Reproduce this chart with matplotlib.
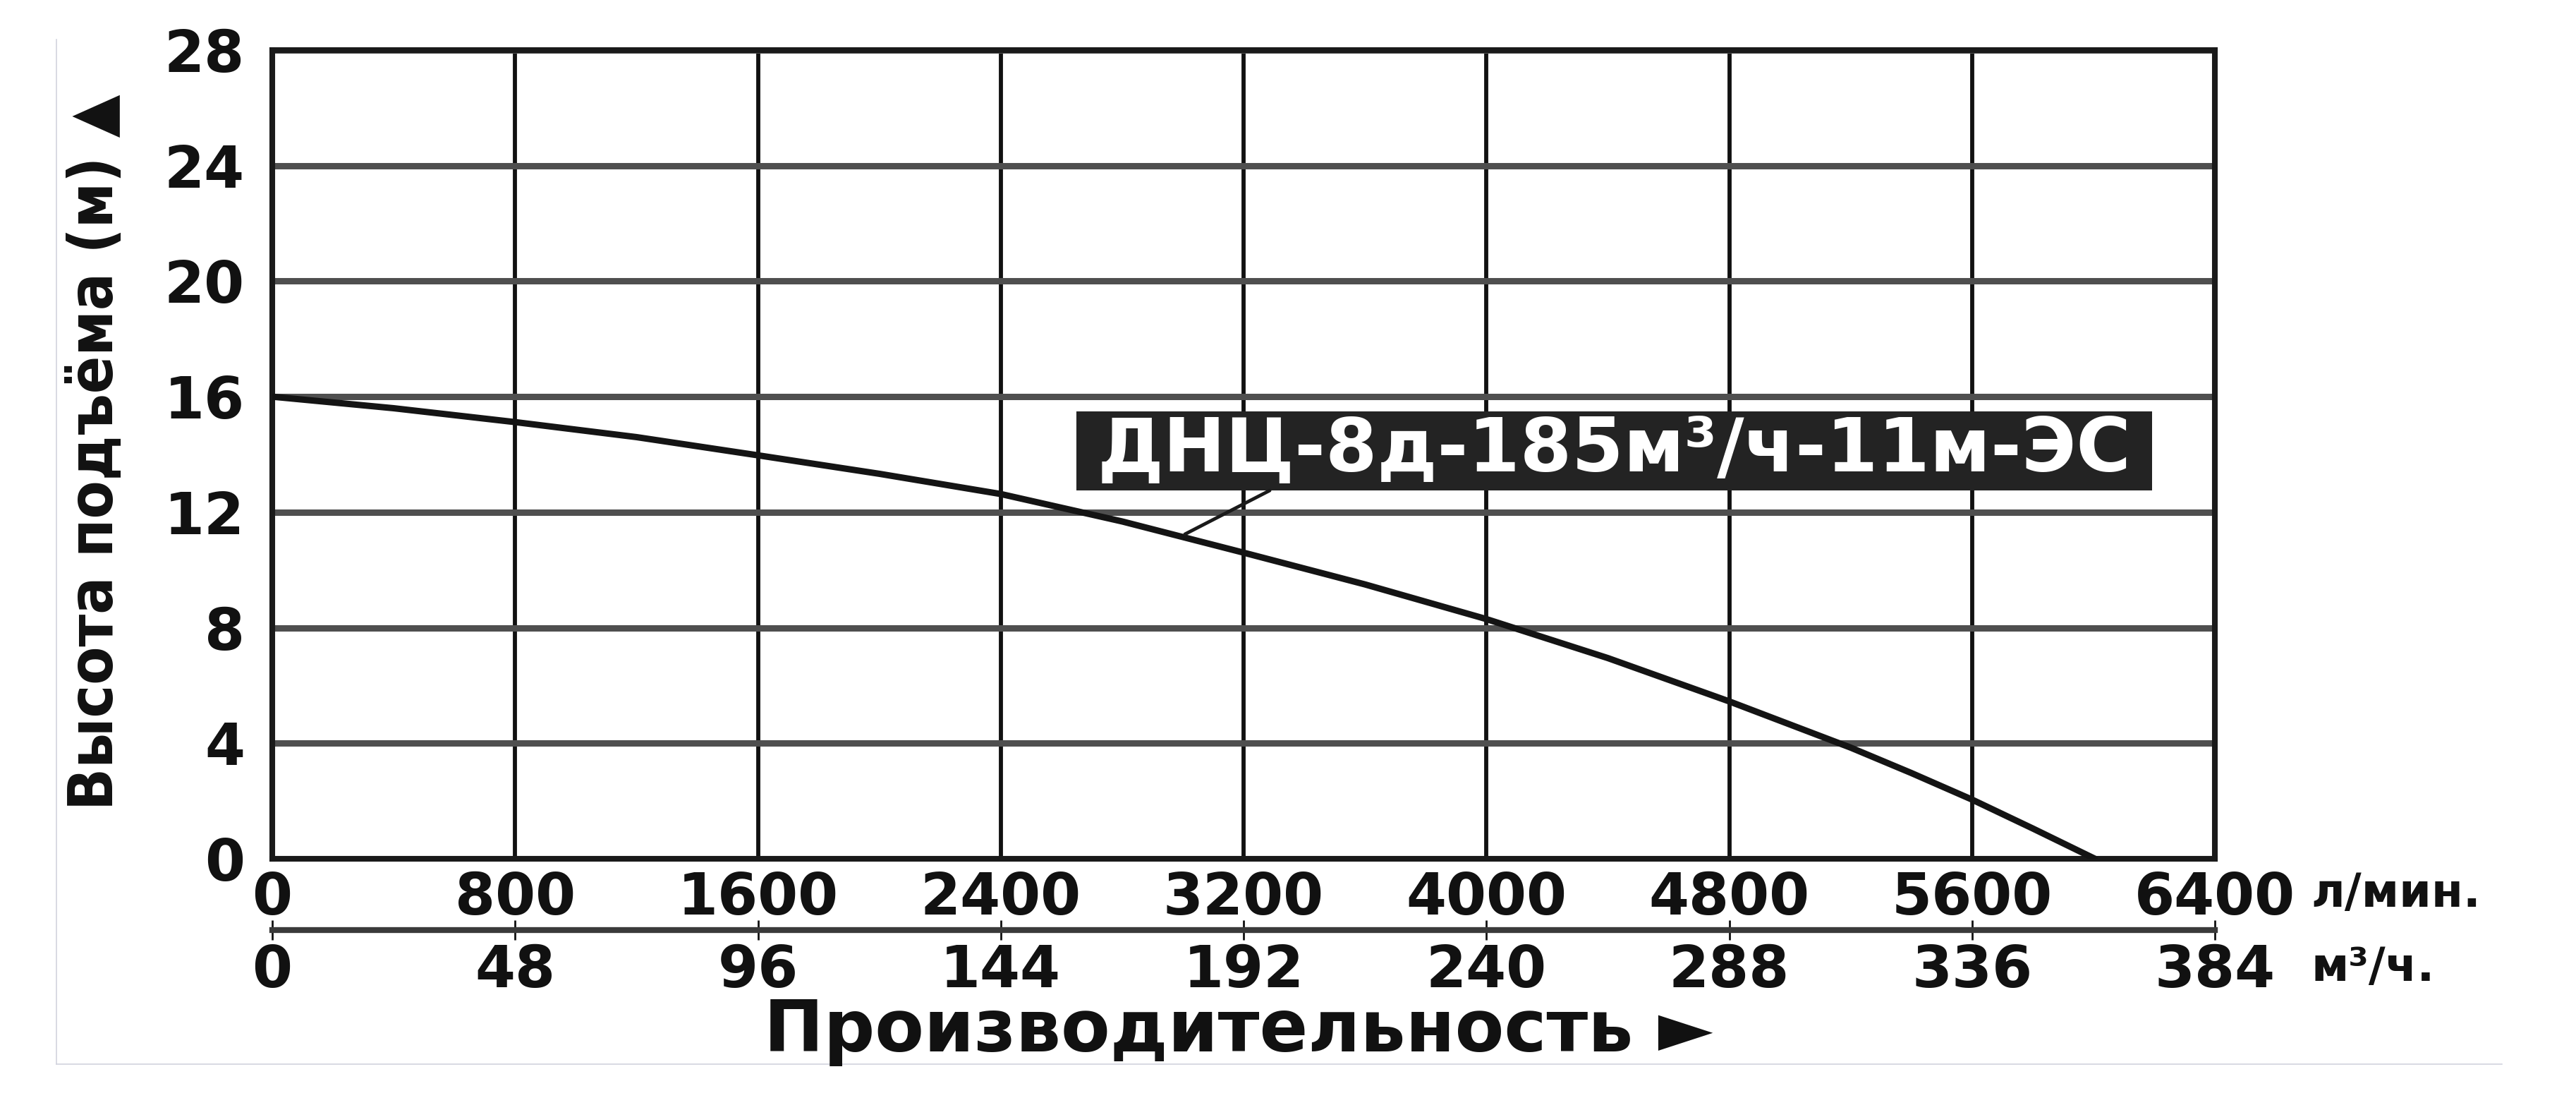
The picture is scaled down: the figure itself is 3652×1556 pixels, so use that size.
import matplotlib
matplotlib.use('Agg')
import matplotlib.pyplot as plt
from matplotlib import font_manager
from matplotlib.lines import Line2D
from matplotlib.patches import Rectangle

# кривая насоса: расход (л/мин) -> напор (м)
flow_lpm = [0, 400, 800, 1200, 1600, 2000, 2400, 2800, 3200, 3600,
            4000, 4400, 4800, 5000, 5200, 5400, 5600, 5800, 6005]
head_m = [16.0, 15.6, 15.12, 14.6, 13.97, 13.33, 12.63, 11.68, 10.6, 9.5,
          8.3, 6.95, 5.45, 4.65, 3.85, 2.97, 2.05, 1.05, 0.0]

x_ticks_lpm = [0, 800, 1600, 2400, 3200, 4000, 4800, 5600, 6400]
x_ticks_m3h = [0, 48, 96, 144, 192, 240, 288, 336, 384]
y_ticks_m = [0, 4, 8, 12, 16, 20, 24, 28]
LPM_TO_M3H = 0.06

model_name = 'ДНЦ-8д-185м³/ч-11м-ЭС'
box_x = (2649, 6193)
box_y = (12.75, 15.49)
leader_start = (3286, 12.75)
leader_end = (3007, 11.24)

plt.rcParams['font.family'] = ['DejaVu Sans']
plt.rcParams['font.weight'] = 'bold'

# узкий шрифт для подписи оси Y, если есть
names = {f.name for f in font_manager.fontManager.ttflist}
narrow_family = ['DejaVu Sans']
narrow_stretch = 'normal'
if 'Liberation Sans Narrow' in names:
    narrow_family = ['Liberation Sans Narrow', 'DejaVu Sans']
elif any(f.name == 'DejaVu Sans' and 'condensed' in str(f.stretch)
         for f in font_manager.fontManager.ttflist):
    narrow_stretch = 'condensed'

W, H = 3652, 1556
fig = plt.figure(figsize=(W / 100, H / 100), dpi=100)
ax = fig.add_axes([386 / W, 1 - 1217 / H, 2754 / W, 1146 / H])

ax.plot(flow_lpm, head_m, color='#141414', lw=6.5, solid_capstyle='round',
        solid_joinstyle='round', zorder=4)

ax.set_xlim(0, 6400)
ax.set_ylim(0, 28)
ax.set_xticks(x_ticks_lpm)
ax.set_yticks(y_ticks_m)
ax.set_xticklabels([str(v) for v in x_ticks_lpm])
ax.set_yticklabels([str(v) for v in y_ticks_m])
ax.xaxis.grid(True, color='#111111', lw=4.2, zorder=1)
ax.yaxis.grid(True, color='#4f4f4f', lw=6.5, zorder=1)
ax.set_axisbelow(True)
ax.tick_params(axis='x', length=0, labelsize=59, pad=12, colors='#111111')
ax.tick_params(axis='y', length=0, labelsize=59, pad=28, colors='#111111')
for s in ax.spines.values():
    s.set_linewidth(5.8)
    s.set_color('#1a1a1a')

# вторая шкала в м³/ч
sec = ax.secondary_xaxis(-0.0881, functions=(lambda x: x * LPM_TO_M3H,
                                             lambda x: x / LPM_TO_M3H))
sec.set_xticks(x_ticks_m3h)
sec.set_xticklabels([str(v) for v in x_ticks_m3h])
sec.spines['bottom'].set_linewidth(6)
sec.spines['bottom'].set_color('#3a3a3a')
sec.tick_params(direction='inout', length=20, width=2, color='#111111',
                labelsize=59, pad=4, labelcolor='#111111')

# подпись модели
ax.add_patch(Rectangle((box_x[0], box_y[0]), box_x[1] - box_x[0], box_y[1] - box_y[0],
                       facecolor='#232323', edgecolor='none', zorder=5))
ax.text(sum(box_x) / 2, sum(box_y) / 2, model_name, color='white', fontsize=76,
        ha='center', va='center', zorder=6)
ax.annotate('', xy=leader_end, xytext=leader_start,
            arrowprops=dict(arrowstyle='-', color='#1a1a1a', lw=3.5,
                            shrinkA=0, shrinkB=0), zorder=5)

# единицы
ax.text(1.0494, -0.0436, 'л/мин.', transform=ax.transAxes, fontsize=47,
        ha='left', va='center', color='#111111')
ax.text(1.0494, -0.1353, 'м³/ч.', transform=ax.transAxes, fontsize=47,
        ha='left', va='center', color='#111111')

# подписи осей
ylab = fig.text(136 / W, 1 - 641 / H, 'Высота подъёма (м) ▲', rotation=90,
                ha='center', va='center', fontsize=80, family=narrow_family,
                stretch=narrow_stretch, color='#111111')
r = fig.canvas.get_renderer()
ext = ylab.get_window_extent(renderer=r)
ylab.set_fontsize(80 * 1014 / ext.height)

fig.text(1756 / W, 1 - 1462 / H, 'Производительность ►', ha='center', va='center',
         fontsize=73, color='#111111')

# бледная рамка исходной картинки
frame = '#d2d3de'
fig.add_artist(Line2D([80 / W, 80 / W], [1 - 1508 / H, 1 - 56 / H], color=frame, lw=1.2))
fig.add_artist(Line2D([80 / W, 3547 / W], [1 - 1508 / H, 1 - 1508 / H], color=frame, lw=1.2))

fig.savefig('out.png', dpi=100, facecolor='white')
